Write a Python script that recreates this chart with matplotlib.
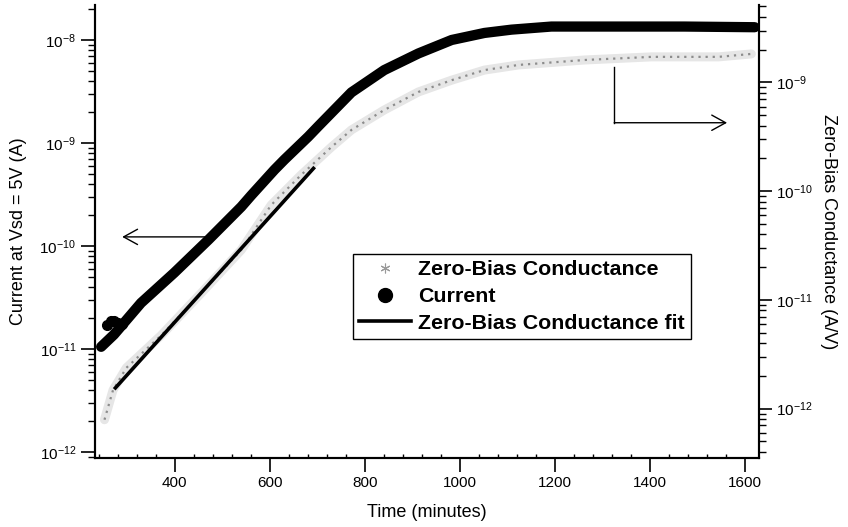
import matplotlib
matplotlib.use("Agg")
import matplotlib.pyplot as plt
from matplotlib.lines import Line2D
from matplotlib.ticker import (LogLocator, MultipleLocator, NullFormatter,
                               FixedLocator, LogFormatterSciNotation)

plt.rcParams['font.family'] = ['Liberation Sans', 'DejaVu Sans']
plt.rcParams['mathtext.fontset'] = 'custom'
plt.rcParams['mathtext.rm'] = 'Liberation Sans'
plt.rcParams['mathtext.it'] = 'Liberation Sans'
plt.rcParams['mathtext.bf'] = 'Liberation Sans:bold'

# ---- data ----
# Current at Vsd = 5V (left axis, A)
time_current = [245, 272, 329, 399, 471, 540, 561, 610, 631, 681, 702, 772,
                841, 913, 983, 1052, 1109, 1193, 1334, 1473, 1621]
current = [1.05e-11, 1.38e-11, 2.8e-11, 5.5e-11, 1.15e-10, 2.4e-10, 3.1e-10,
           5.5e-10, 6.9e-10, 1.15e-9, 1.45e-9, 3.1e-9, 5.1e-9, 7.4e-9, 1.0e-8,
           1.17e-8, 1.26e-8, 1.35e-8, 1.35e-8, 1.35e-8, 1.33e-8]
# small step of current points near the start
time_current_step = [258, 265, 272, 280, 288]
current_step = [1.7e-11, 1.85e-11, 1.85e-11, 1.8e-11, 1.75e-11]

# Zero-bias conductance (right axis, A/V)
time_cond = [252, 270, 298, 372, 456, 540, 603, 666, 730, 772, 841, 913, 983,
             1052, 1124, 1263, 1404, 1545, 1614]
conductance = [7.9e-13, 1.48e-12, 2.37e-12, 4.75e-12, 1.16e-11, 2.88e-11,
               7.46e-11, 1.41e-10, 2.55e-10, 3.66e-10, 5.58e-10, 8.18e-10,
               1.05e-9, 1.30e-9, 1.45e-9, 1.61e-9, 1.72e-9, 1.72e-9, 1.83e-9]

# Exponential fit of conductance (right axis)
time_fit = [275, 692]
conductance_fit = [1.55e-12, 1.62e-10]

x_ticks = [400, 600, 800, 1000, 1200, 1400, 1600]
left_ticks = [1e-12, 1e-11, 1e-10, 1e-9, 1e-8]
right_ticks = [1e-12, 1e-11, 1e-10, 1e-9]

# ---- figure ----
fig = plt.figure(figsize=(8.48, 5.27), dpi=100)
ax = fig.add_axes([0.112, 0.131, 0.783, 0.8596])
ax2 = ax.twinx()

ax.set_xlim(232, 1630)
ax.set_yscale('log')
ax.set_ylim(10 ** -12.058, 10 ** -7.66)
ax2.set_yscale('log')
ax2.set_ylim(10 ** -12.454, 10 ** -8.287)

# conductance band (speckled gray)
ax2.plot(time_cond, conductance, color='#e6e6e6', lw=6.5, solid_capstyle='round', zorder=2)
ax2.plot(time_cond, conductance, color='#8c8c8c', lw=1.6, ls=(0, (1, 2.2)), zorder=3)
# fit line
ax2.plot(time_fit, conductance_fit, color='black', lw=2.6, zorder=4)

# current band
ax.plot(time_current, current, color='black', lw=7.4, solid_capstyle='round',
        solid_joinstyle='round', zorder=5)
ax.plot(time_current_step, current_step, 'o', color='black', ms=7, zorder=5)
ax.set_zorder(ax2.get_zorder() + 1)
ax.patch.set_visible(False)

# ticks
ax.xaxis.set_major_locator(FixedLocator(x_ticks))
ax.xaxis.set_minor_locator(MultipleLocator(40))
for a in (ax, ax2):
    a.spines['top'].set_visible(False)
    for s in a.spines.values():
        s.set_linewidth(1.5)
ax.tick_params(axis='x', which='major', direction='out', length=10, width=1.2,
               labelsize=11, top=False, pad=3)
ax.tick_params(axis='x', which='minor', direction='in', length=3, width=1, top=False)
ax.tick_params(axis='y', which='major', direction='out', length=10, width=1.2,
               labelsize=11, right=False)
ax.tick_params(axis='y', which='minor', direction='out', length=5, width=1, right=False)
ax2.tick_params(axis='y', which='major', direction='out', length=9, width=1.2,
                labelsize=11, left=False)
ax2.tick_params(axis='y', which='minor', direction='out', length=5, width=1, left=False)
for a, tk in ((ax, left_ticks), (ax2, right_ticks)):
    a.yaxis.set_major_locator(FixedLocator(tk))
    a.yaxis.set_major_formatter(LogFormatterSciNotation())
    a.yaxis.set_minor_locator(LogLocator(base=10, subs=range(2, 10), numticks=20))
    a.yaxis.set_minor_formatter(NullFormatter())

ax.set_xlabel('Time (minutes)', fontsize=13, labelpad=10)
ax.set_ylabel('Current at Vsd = 5V (A)', fontsize=13, labelpad=9)
ax2.set_ylabel('Zero-Bias Conductance (A/V)', fontsize=13, rotation=270, labelpad=17)

# arrows
ax.annotate('', xy=(0.041, 0.488), xytext=(0.173, 0.488), xycoords='axes fraction',
            arrowprops=dict(arrowstyle='->,head_length=1.0,head_width=0.55',
                            color='black', lw=1, mutation_scale=10, shrinkA=0, shrinkB=0))
ax.plot([0.782, 0.782], [0.863, 0.740], transform=ax.transAxes, color='black', lw=1)
ax.annotate('', xy=(0.952, 0.740), xytext=(0.782, 0.740), xycoords='axes fraction',
            arrowprops=dict(arrowstyle='->,head_length=1.0,head_width=0.55',
                            color='black', lw=1, mutation_scale=10, shrinkA=0, shrinkB=0))

# legend
handles = [
    Line2D([], [], ls='none', marker=(6, 2, 0), ms=7, color='#9a9a9a', mew=0.8),
    Line2D([], [], ls='none', marker='o', ms=10, color='black'),
    Line2D([], [], color='black', lw=2.6),
]
labels = ['Zero-Bias Conductance', 'Current', 'Zero-Bias Conductance fit']
leg = ax.legend(handles, labels, loc='lower left', bbox_to_anchor=(0.389, 0.263),
                borderaxespad=0, frameon=True, fancybox=False, framealpha=1,
                edgecolor='black', prop={'size': 15.4, 'weight': 'bold'},
                labelspacing=0.36, borderpad=0.28, handlelength=2.4,
                handletextpad=0.35)
leg.get_frame().set_linewidth(1.0)

fig.savefig('out.png', dpi=100)
